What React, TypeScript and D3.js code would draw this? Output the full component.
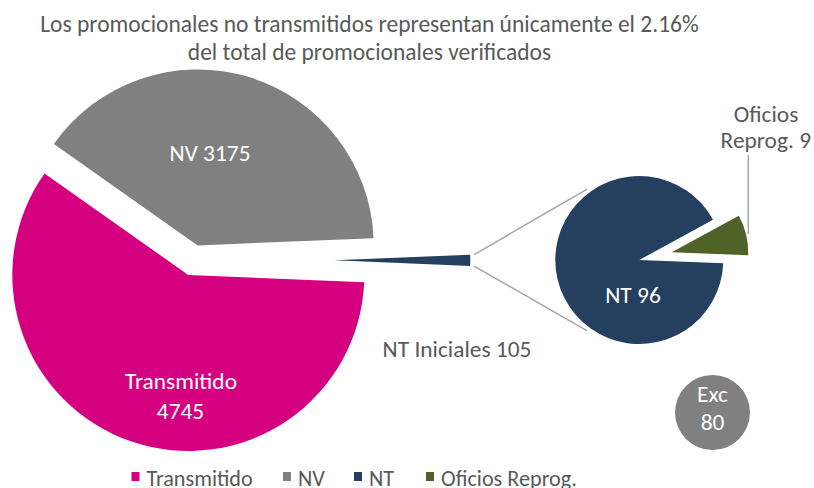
import React from "react";
import * as d3 from "d3";

// ---- data ----
const mainCategories = ["NV", "NT", "Transmitido"];
const mainValues = [3175, 105, 4745];
const subCategories = ["Oficios Reprog.", "NT"];
const subValues = [9, 96];
const excLabel = "Exc";
const excValue = 80;
const legendLabels = ["Transmitido", "NV", "NT", "Oficios Reprog."];
const titleLines = [
  "Los promocionales no transmitidos representan únicamente el 2.16%",
  "del total de promocionales verificados",
];

const COLORS: Record<string, string> = {
  Transmitido: "#d5007f",
  NV: "#808080",
  NT: "#243f60",
  "Oficios Reprog.": "#4f6228",
};
const TEXT = "#595959";
const FONT = "Carlito, Calibri, 'Open Sans', sans-serif";
const FS = 23.4;

const W = 814;
const H = 488;

// layout
const C1 = { x: 193.3, y: 260.3, r: 176 };
const C2 = { x: 639.3, y: 260, r: 84 };

function offset(a: number, e: number) {
  return [Math.sin(a) * e, -Math.cos(a) * e];
}

export default function App() {
  const total = d3.sum(mainValues);
  const ntIdx = mainCategories.indexOf("NT");
  const before = d3.sum(mainValues.slice(0, ntIdx));
  const start1 = Math.PI / 2 - (2 * Math.PI * (before + mainValues[ntIdx] / 2)) / total;
  const pie1 = d3.pie<number>().sort(null).startAngle(start1).endAngle(start1 + 2 * Math.PI);
  const arcs1 = pie1(mainValues);

  const subTotal = d3.sum(subValues);
  const greenMid = (76.75 * Math.PI) / 180;
  const start2 = greenMid - (Math.PI * subValues[0]) / subTotal;
  const pie2 = d3.pie<number>().sort(null).startAngle(start2).endAngle(start2 + 2 * Math.PI);
  const arcs2 = pie2(subValues);

  const mainStyle: Record<string, { r: number; e: number }> = {
    NV: { r: C1.r, e: 15.5 },
    NT: { r: 136, e: 141 },
    Transmitido: { r: C1.r, e: 15.5 },
  };
  const subStyle: Record<string, { r: number; e: number }> = {
    "Oficios Reprog.": { r: 76.5, e: 33.3 },
    NT: { r: C2.r, e: 0 },
  };

  // connector lines
  const nt = arcs1[ntIdx];
  const ntMid = (nt.startAngle + nt.endAngle) / 2;
  const [ox, oy] = offset(ntMid, mainStyle.NT.e);
  const tipR = mainStyle.NT.r + 4;
  const p1 = [C1.x + ox + Math.sin(nt.startAngle) * tipR, C1.y + oy - Math.cos(nt.startAngle) * tipR];
  const p2 = [C1.x + ox + Math.sin(nt.endAngle) * tipR, C1.y + oy - Math.cos(nt.endAngle) * tipR];
  const connAng = (36.3 * Math.PI) / 180;
  const cr = C2.r + 4;
  const q1 = [C2.x - Math.sin(connAng) * cr, C2.y - Math.cos(connAng) * cr];
  const q2 = [C2.x - Math.sin(connAng) * cr, C2.y + Math.cos(connAng) * cr];

  const legendX = [131.5, 283, 354, 426];

  return (
    <svg width={W} height={H} style={{ position: "absolute", left: 0, top: 0 }} fontFamily={FONT}>
      <rect width={W} height={H} fill="#ffffff" />
      {titleLines.map((t, i) => (
        <text key={i} x={369.5} y={31.5 + i * 28.5} textAnchor="middle" fontSize={23.5} fill={TEXT}>
          {t}
        </text>
      ))}

      {/* main pie */}
      {arcs1.map((a, i) => {
        const cat = mainCategories[i];
        const s = mainStyle[cat];
        const mid = (a.startAngle + a.endAngle) / 2;
        const [dx, dy] = offset(mid, s.e);
        const path = d3.arc<d3.PieArcDatum<number>>().innerRadius(0).outerRadius(s.r)(a) || "";
        return (
          <path key={cat} d={path} fill={COLORS[cat]} transform={`translate(${C1.x + dx},${C1.y + dy})`} />
        );
      })}

      {/* connector lines */}
      <line x1={p1[0]} y1={p1[1]} x2={q1[0]} y2={q1[1]} stroke="#a6a6a6" strokeWidth={1.5} />
      <line x1={p2[0]} y1={p2[1]} x2={q2[0]} y2={q2[1]} stroke="#a6a6a6" strokeWidth={1.5} />

      {/* secondary pie */}
      {arcs2.map((a, i) => {
        const cat = subCategories[i];
        const s = subStyle[cat];
        const mid = (a.startAngle + a.endAngle) / 2;
        const [dx, dy] = offset(mid, s.e);
        const path = d3.arc<d3.PieArcDatum<number>>().innerRadius(0).outerRadius(s.r)(a) || "";
        return (
          <path key={cat} d={path} fill={COLORS[cat]} transform={`translate(${C2.x + dx},${C2.y + dy})`} />
        );
      })}

      {/* Oficios leader */}
      <line x1={748.3} y1={155} x2={748.3} y2={234} stroke="#a6a6a6" strokeWidth={1.5} />

      {/* labels */}
      <text x={210} y={161} textAnchor="middle" fontSize={FS} fill="#ffffff">
        {`NV ${mainValues[0]}`}
      </text>
      <text x={181} y={389} textAnchor="middle" fontSize={FS} fill="#ffffff">
        Transmitido
      </text>
      <text x={180.5} y={419} textAnchor="middle" fontSize={FS} fill="#ffffff">
        {mainValues[2]}
      </text>
      <text x={457} y={357} textAnchor="middle" fontSize={FS} fill={TEXT}>
        {`NT Iniciales ${d3.sum(subValues)}`}
      </text>
      <text x={633} y={303} textAnchor="middle" fontSize={FS} fill="#ffffff">
        {`NT ${subValues[1]}`}
      </text>
      <text x={766} y={121.5} textAnchor="middle" fontSize={FS} fill={TEXT}>
        Oficios
      </text>
      <text x={765.8} y={148.3} textAnchor="middle" fontSize={FS} fill={TEXT}>
        {`Reprog. ${subValues[0]}`}
      </text>

      {/* Exc bubble */}
      <circle cx={712.5} cy={412.5} r={37.5} fill="#808080" />
      <text x={712.5} y={401.5} textAnchor="middle" fontSize={FS} fill="#ffffff">
        {excLabel}
      </text>
      <text x={712.5} y={430} textAnchor="middle" fontSize={FS} fill="#ffffff">
        {excValue}
      </text>

      {/* legend */}
      {legendLabels.map((l, i) => (
        <g key={l}>
          <rect x={legendX[i]} y={472} width={8} height={9} fill={COLORS[l]} />
          <text x={legendX[i] + 15} y={485.5} fontSize={22.2} fill={TEXT}>
            {l}
          </text>
        </g>
      ))}
    </svg>
  );
}
